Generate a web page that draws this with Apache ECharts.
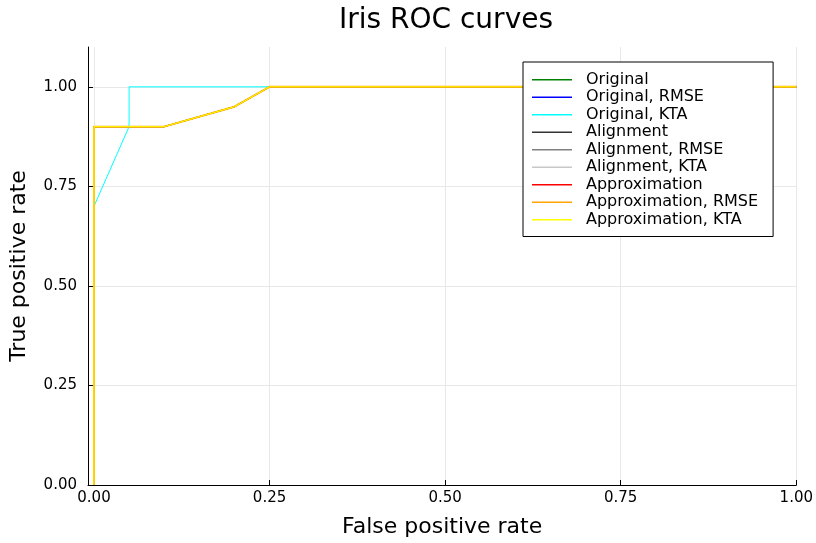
<!DOCTYPE html>
<html><head><meta charset="utf-8">
<script src="https://cdn.jsdelivr.net/npm/echarts@6/dist/echarts.min.js"></script>
<style>html,body{margin:0;padding:0;background:#fff}#c{width:816px;height:543px}</style>
</head><body><div id="c"></div>
<script>
const seriesNames = ["Original","Original, RMSE","Original, KTA","Alignment","Alignment, RMSE","Alignment, KTA","Approximation","Approximation, RMSE","Approximation, KTA"];
const seriesColors = ["#008000","#0000ff","#00ffff","#333333","#808080","#c8c8c8","#ff0000","#ffa500","#ffff00"];
const commonFpr = [0, 0, 0.1, 0.2, 0.25, 1];
const commonTpr = [0, 0.9, 0.9, 0.95, 1, 1];
const ktaFpr = [0, 0, 0.05, 0.05, 1];
const ktaTpr = [0, 0.7, 0.9, 1, 1];
const tickValues = [0, 0.25, 0.5, 0.75, 1];

function pts(xs, ys){ return xs.map((x,i)=>[x, ys[i]]); }
const series = seriesNames.map((n,i)=>({
  name: n, type: 'line', symbol: 'none', animation: false,
  data: n === "Original, KTA" ? pts(ktaFpr, ktaTpr) : pts(commonFpr, commonTpr),
  lineStyle: {color: seriesColors[i], width: n === "Approximation, RMSE" ? 2 : 1},
  itemStyle: {color: seriesColors[i]}
}));

const chart = echarts.init(document.getElementById('c'));
const fmt = v => v.toFixed(2);
chart.setOption({
  backgroundColor: '#fff',
  animation: false,
  title: {text: 'Iris ROC curves', left: 441, textAlign: 'center', top: 2,
    textStyle: {fontFamily: 'DejaVu Sans', fontSize: 28, fontWeight: 'normal', color: '#000'}},
  grid: {left: 87, right: 19, top: 47, bottom: 58, containLabel: false},
  legend: {
    orient: 'vertical', left: 523, top: 62, data: seriesNames,
    icon: 'rect', itemWidth: 40, itemHeight: 1.5, itemGap: 0,
    padding: [9, 15, 8, 9], borderColor: '#000', borderWidth: 1, backgroundColor: '#fff',
    textStyle: {fontFamily: 'DejaVu Sans', fontSize: 16, color: '#000', lineHeight: 17.5, padding: [0,0,0,9]}
  },
  xAxis: {
    type: 'value', min: -0.0085, max: 1,
    name: 'False positive rate', nameLocation: 'middle', nameGap: 31,
    nameTextStyle: {fontFamily: 'DejaVu Sans', fontSize: 22, color: '#000'},
    axisLine: {show: true, onZero: false, lineStyle: {color: '#000', width: 1}},
    axisTick: {show: true, inside: true, length: 5, customValues: tickValues, lineStyle: {color: '#000'}},
    axisLabel: {customValues: tickValues, formatter: fmt, fontFamily: 'DejaVu Sans', fontSize: 15, color: '#000', margin: 6},
    splitLine: {show: true, lineStyle: {color: '#e8e8e8', width: 1}}
  },
  yAxis: {
    type: 'value', min: 0, max: 1.1,
    name: 'True positive rate', nameLocation: 'middle', nameGap: 58, nameRotate: 90,
    nameTextStyle: {fontFamily: 'DejaVu Sans', fontSize: 22, color: '#000'},
    axisLine: {show: true, onZero: false, lineStyle: {color: '#000', width: 1}},
    axisTick: {show: true, inside: true, length: 5, customValues: tickValues, lineStyle: {color: '#000'}},
    axisLabel: {customValues: tickValues, formatter: fmt, fontFamily: 'DejaVu Sans', fontSize: 15, color: '#000', margin: 11},
    splitLine: {show: true, lineStyle: {color: '#e8e8e8', width: 1}}
  },
  series: series
});
</script></body></html>
